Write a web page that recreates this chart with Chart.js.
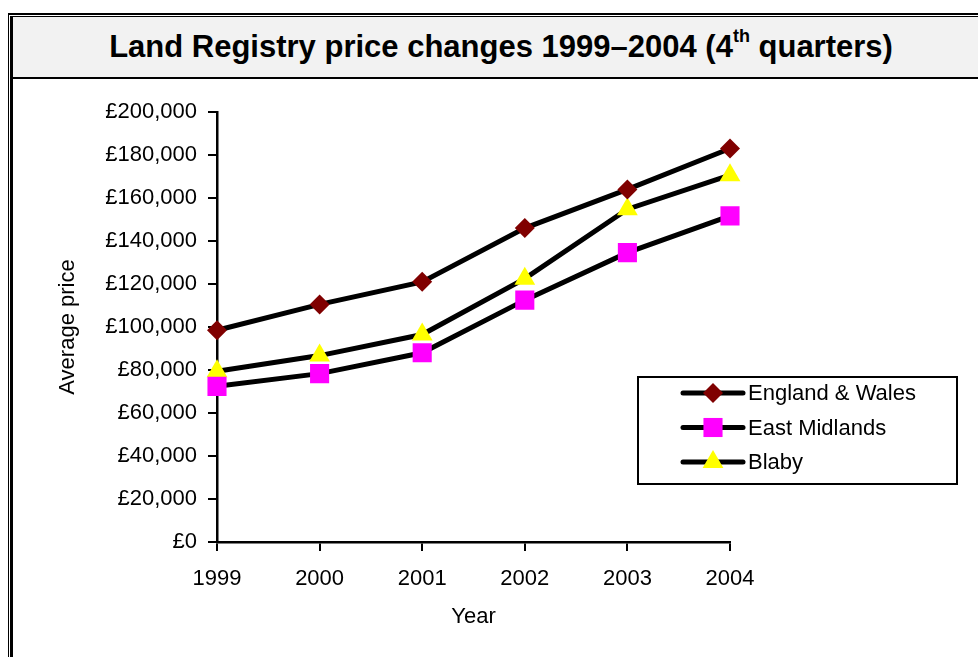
<!DOCTYPE html>
<html>
<head>
<meta charset="utf-8">
<script src="https://cdn.jsdelivr.net/npm/chart.js@4.4.0/dist/chart.umd.min.js"></script>
<style>
  body { margin: 0; background: #fff; width: 978px; height: 657px; overflow: hidden; position: relative; font-family: "Liberation Sans", Arial, sans-serif; }
  #frameOuter { position: absolute; left: 8px; top: 13px; width: 1000px; height: 700px; border-top: 2px solid #000; border-left: 1px solid #000; }
  #frameInner { position: absolute; left: 10px; top: 16px; width: 1000px; height: 700px; border-top: 1px solid #000; border-left: 3px solid #000; }
  #titleBand { position: absolute; left: 13px; top: 17px; width: 1000px; height: 60px; background: #f2f2f2; border-bottom: 2px solid #000; }
  #title { position: absolute; left: 12px; top: 17px; width: 978px; height: 60px; line-height: 60px; text-align: center; font-weight: bold; font-size: 31px; color: #000; }
  #title sup { font-size: 18px; line-height: 0; position: relative; top: -4px; }
  #chartBox { position: absolute; left: 12px; top: 80px; }
</style>
</head>
<body>
<div id="frameOuter"></div>
<div id="frameInner"></div>
<div id="titleBand"></div>
<div id="title">Land Registry price changes 1999–2004 (4<sup>th</sup> quarters)</div>
<div id="chartBox"><canvas id="landChart" width="966" height="577"></canvas></div>
<script>
// Daten
var years = ["1999", "2000", "2001", "2002", "2003", "2004"];
var englandWales = [98500, 110500, 121000, 146000, 164000, 183000];
var eastMidlands = [72400, 78300, 88000, 112500, 134600, 151700];
var blaby = [79400, 86700, 96500, 122500, 154800, 170600];
var seriesNames = ["England & Wales", "East Midlands", "Blaby"];

var FONT = "'Liberation Sans', Arial, sans-serif";

// Legende im Diagramm zeichnen
var boxLegend = {
  id: "boxLegend",
  afterDraw: function (chart) {
    var ctx = chart.ctx;
    var x = 626, y = 297, w = 319, h = 107;
    ctx.save();
    ctx.fillStyle = "#fff";
    ctx.fillRect(x, y, w, h);
    ctx.lineWidth = 2;
    ctx.strokeStyle = "#000";
    ctx.strokeRect(x, y, w, h);
    ctx.font = "22px " + FONT;
    ctx.textBaseline = "middle";
    chart.data.datasets.forEach(function (ds, i) {
      var ry = y + 16 + i * 34.5;
      ctx.beginPath();
      ctx.lineWidth = 5;
      ctx.lineCap = "round";
      ctx.strokeStyle = "#000";
      ctx.moveTo(x + 45, ry);
      ctx.lineTo(x + 105, ry);
      ctx.stroke();
      ctx.fillStyle = ds.pointBackgroundColor;
      Chart.helpers.drawPoint(ctx, { pointStyle: ds.pointStyle, radius: ds.pointRadius, borderWidth: 0 }, x + 75, ry);
      ctx.fillStyle = "#000";
      ctx.fillText(ds.label, x + 110, ry + 1);
    });
    ctx.restore();
  }
};

var chartdata = {
  labels: years,
  datasets: [
    {
      label: seriesNames[0],
      data: englandWales,
      borderColor: "#000",
      borderWidth: 5,
      pointStyle: "rectRot",
      pointRadius: 10,
      pointBackgroundColor: "#800000",
      pointBorderWidth: 0
    },
    {
      label: seriesNames[1],
      data: eastMidlands,
      borderColor: "#000",
      borderWidth: 5,
      pointStyle: "rect",
      pointRadius: 13.5,
      pointBackgroundColor: "#ff00ff",
      pointBorderWidth: 0
    },
    {
      label: seriesNames[2],
      data: blaby,
      borderColor: "#000",
      borderWidth: 5,
      pointStyle: "triangle",
      pointRadius: 12,
      pointBackgroundColor: "#ffff00",
      pointBorderWidth: 0
    }
  ]
};

var ctx = document.getElementById("landChart");
var myChart = new Chart(ctx, {
  type: "line",
  data: chartdata,
  plugins: [boxLegend],
  options: {
    responsive: false,
    animation: false,
    layout: {
      padding: { left: 43, right: 248, top: 32, bottom: 27 }
    },
    plugins: {
      legend: { display: false },
      tooltip: { enabled: false }
    },
    scales: {
      x: {
        offset: false,
        afterFit: function (scale) { scale.height = 88; },
        border: { display: true, color: "#000", width: 2.5 },
        grid: { drawOnChartArea: false, drawTicks: true, tickLength: 9, color: "#000", lineWidth: 2 },
        ticks: { color: "#000", font: { family: FONT, size: 22 }, padding: 15, maxRotation: 0 },
        title: { display: true, text: "Year", color: "#000", font: { family: FONT, size: 22 }, padding: 0 }
      },
      y: {
        min: 0,
        max: 200000,
        afterFit: function (scale) { scale.width = 162; },
        border: { display: true, color: "#000", width: 2.5 },
        grid: { drawOnChartArea: false, drawTicks: true, tickLength: 9, color: "#000", lineWidth: 2 },
        ticks: {
          stepSize: 20000,
          color: "#000",
          font: { family: FONT, size: 22 },
          padding: 11,
          callback: function (v) { return "£" + v.toLocaleString("en-GB"); }
        },
        title: { display: true, text: "Average price", color: "#000", font: { family: FONT, size: 22 }, padding: 0 }
      }
    }
  }
});
</script>
</body>
</html>
